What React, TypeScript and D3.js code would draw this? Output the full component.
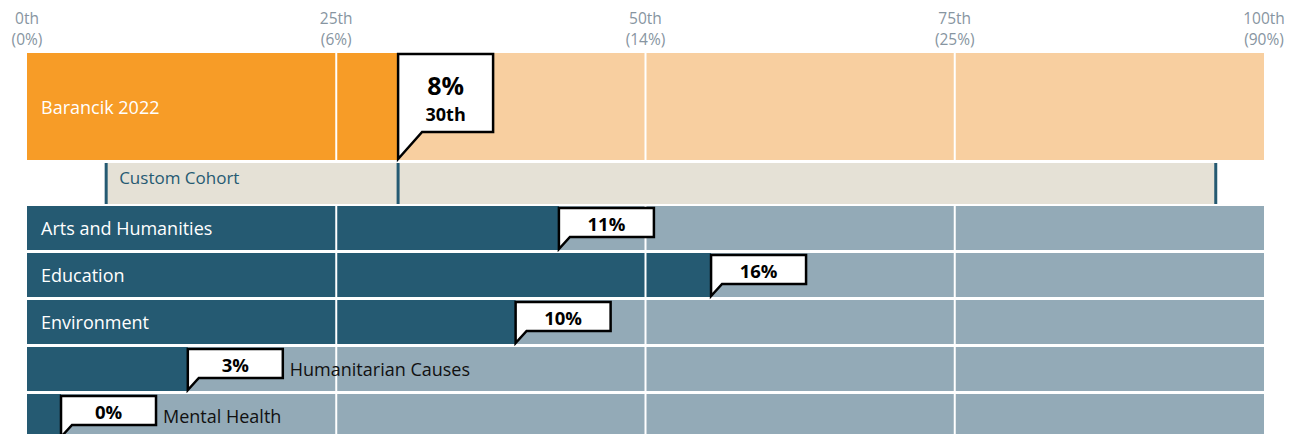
import React from 'react';
import * as d3 from 'd3';

// percentile ticks across the top and the dollar share each one stands for
const tickPercentiles = [0, 25, 50, 75, 100];
const tickShares = ['0%', '6%', '14%', '25%', '90%'];

// the organisation being compared
const orgName = 'Barancik 2022';
const orgShare = '8%';
const orgPercentile = 30;

// cohort span (percentile from / to)
const cohortLabel = 'Custom Cohort';
const cohortRange = [6.4, 96.1];

// focus areas
const categories = ['Arts and Humanities', 'Education', 'Environment', 'Humanitarian Causes', 'Mental Health'];
const categoryPercentiles = [43, 55.3, 39.5, 13, 2.75];
const categoryShares = ['11%', '16%', '10%', '3%', '0%'];

const W = 1299;
const H = 440;
const margin = { left: 27, right: 35 };
const font = '"Open Sans", "Noto Sans", sans-serif';

const ORANGE = '#F79C27';
const ORANGE_LIGHT = '#F8CFA0';
const TEAL = '#255A72';
const TEAL_LIGHT = '#93AAB7';
const BEIGE = '#E5E1D6';
const GREY = '#8795A1';

export default function App() {
    const x = d3.scaleLinear().domain([0, 100]).range([margin.left, W - margin.right]);

    const orgTop = 53;
    const orgH = 107;
    const cohortTop = 163;
    const cohortH = 41;

    // category rows: 44px bars with 3px gaps
    const y = d3
        .scaleBand<string>()
        .domain(categories)
        .range([206, 206 + 47 * categories.length - 3])
        .paddingInner(3 / 47);
    const rowH = y.bandwidth();

    const boxW = 95;
    const boxH = 29;

    const xOrg = x(orgPercentile);

    return (
        <svg width={W} height={H} style={{ position: 'absolute', left: 0, top: 0 }} fontFamily={font}>
            {/* header ticks, two lines per tick */}
            {tickPercentiles.map((p, i) => (
                <g key={p} fill={GREY} fontSize={15.5} textAnchor="middle">
                    <text x={x(p)} y={24}>{p}th</text>
                    <text x={x(p)} y={45}>({tickShares[i]})</text>
                </g>
            ))}

            {/* organisation row */}
            <rect x={x(0)} y={orgTop} width={x(100) - x(0)} height={orgH} fill={ORANGE_LIGHT} />
            <rect x={x(0)} y={orgTop} width={xOrg - x(0)} height={orgH} fill={ORANGE} />
            {tickPercentiles.slice(1, -1).map((p) => (
                <line key={p} x1={x(p)} x2={x(p)} y1={orgTop} y2={orgTop + orgH} stroke="#fff" strokeWidth={2} />
            ))}
            <text x={x(0) + 14} y={orgTop + orgH / 2 + 7} fill="#fff" fontSize={18}>{orgName}</text>

            {/* cohort row */}
            <rect x={x(cohortRange[0])} y={cohortTop} width={x(cohortRange[1]) - x(cohortRange[0])} height={cohortH} fill={BEIGE} />
            {[cohortRange[0], orgPercentile, cohortRange[1]].map((p, i) => (
                <line key={i} x1={x(p)} x2={x(p)} y1={cohortTop} y2={cohortTop + cohortH} stroke={TEAL} strokeWidth={3} />
            ))}
            <text x={x(cohortRange[0]) + 13} y={cohortTop + 21} fill={TEAL} fontSize={17}>{cohortLabel}</text>

            {/* org callout */}
            <path
                d={`M${xOrg},${orgTop + orgH - 1} L${xOrg},${orgTop + 1} L${xOrg + boxW},${orgTop + 1} L${xOrg + boxW},${orgTop + 79} L${xOrg + 24},${orgTop + 79} Z`}
                fill="#fff"
                stroke="#000"
                strokeWidth={2.5}
            />
            <text x={xOrg + boxW / 2} y={95} textAnchor="middle" fontWeight={700}>
                <tspan x={xOrg + boxW / 2} fontSize={25}>{orgShare}</tspan>
                <tspan x={xOrg + boxW / 2} dy={26} fontSize={18}>{orgPercentile}th</tspan>
            </text>

            {/* category rows */}
            {categories.map((c, i) => {
                const top = y(c) as number;
                const xv = x(categoryPercentiles[i]);
                const inside = c.length * 9.8 + 30 < xv - x(0);
                return (
                    <g key={c}>
                        <rect x={x(0)} y={top} width={x(100) - x(0)} height={rowH} fill={TEAL_LIGHT} />
                        <rect x={x(0)} y={top} width={xv - x(0)} height={rowH} fill={TEAL} />
                        {tickPercentiles.slice(1, -1).map((p) => (
                            <line key={p} x1={x(p)} x2={x(p)} y1={top} y2={top + rowH} stroke="#fff" strokeWidth={2} />
                        ))}
                        {inside ? (
                            <text x={x(0) + 14} y={top + rowH / 2 + 7} fill="#fff" fontSize={18}>{c}</text>
                        ) : (
                            <text x={xv + boxW + 7} y={top + rowH / 2 + 7} fill="#111" fontSize={18}>{c}</text>
                        )}
                        <path
                            d={`M${xv},${top + rowH - 1} L${xv},${top + 2} L${xv + boxW},${top + 2} L${xv + boxW},${top + 2 + boxH} L${xv + 11},${top + 2 + boxH} Z`}
                            fill="#fff"
                            stroke="#000"
                            strokeWidth={2.5}
                        />
                        <text x={xv + boxW / 2} y={top + 25} textAnchor="middle" fontSize={18.5} fontWeight={700}>{categoryShares[i]}</text>
                    </g>
                );
            })}
        </svg>
    );
}
